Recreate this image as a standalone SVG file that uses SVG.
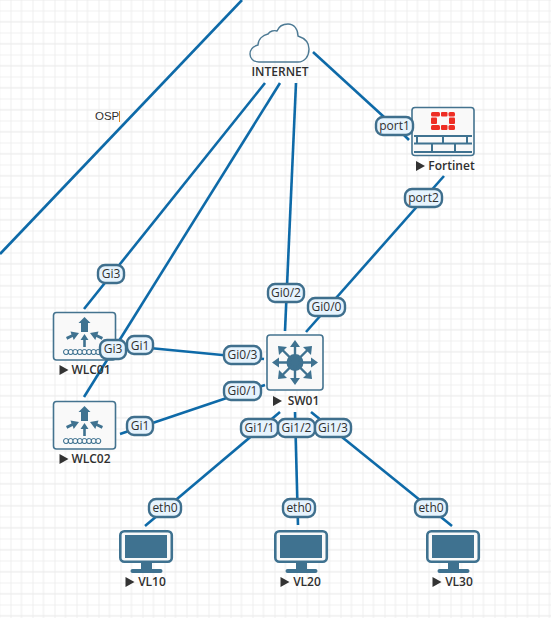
<svg xmlns="http://www.w3.org/2000/svg" width="551" height="618" viewBox="0 0 551 618">
<style>
text{font-family:"Open Sans","Liberation Sans",Arial,sans-serif;fill:#2f2f2f}
.c{stroke:#0e6aa8;stroke-width:2.600;fill:none}
.b{fill:#f9f9f9;stroke:#44738f;stroke-width:1.600}
.f{fill:#3f7290}
.s{stroke:#3f7290;fill:none}
.n{font-size:12px;font-weight:600;text-anchor:middle}
.l rect{fill:#e6f3fd;stroke:#3f6f8d;stroke-width:2.400}
.l text{font-size:12px;text-anchor:middle}
</style>
<defs>
<pattern id="g" width="22" height="22" patternUnits="userSpaceOnUse" x="-11.500" y="0.500">
<path d="M0 0V22M11 0V22M0 10.500H22M0 21.500H22" stroke="#f0f0f0" stroke-width="1.200" fill="none"/>
<path d="M0 0V22M0 21.500H22" stroke="#ebebeb" stroke-width="1.400" fill="none"/>
</pattern>
<path id="t" d="M0 0l9 5-9 5z" fill="#333"/>
<g id="wlc">
<rect class="b" x="0.500" y="0.500" width="62" height="47.500" rx="3"/>
<path class="f" d="M31.500 5l6 6h-2.500V20h-7v-9h-2.500z"/>
<path class="f" d="M31.500 22l4 6h-2.700V35h-2.600v-7h-2.700z"/>
<path class="f" d="M26 21l-8.500-1.500 1 3-5.500 2.500 1.200 2.700 5.500-2.700 1 3zM37 21l8.500-1.500-1 3 5.500 2.500-1.200 2.700-5.500-2.700-1 3z"/>
<path class="s" stroke-width="1.100" d="M13 37.500a2.500 2.500 0 1 0 .1 0M17.600 37.500a2.500 2.500 0 1 0 .1 0M22.200 37.500a2.500 2.500 0 1 0 .1 0M26.800 37.500a2.500 2.500 0 1 0 .1 0M31.400 37.500a2.500 2.500 0 1 0 .1 0M36 37.500a2.500 2.500 0 1 0 .1 0M40.600 37.500a2.500 2.500 0 1 0 .1 0M45.200 37.500a2.500 2.500 0 1 0 .1 0"/>
</g>
<g id="pc">
<rect x="1.300" y="1.300" width="51.500" height="30.500" rx="4" fill="#f9f9f9" stroke="#3f7290" stroke-width="2.600"/>
<rect class="f" x="6" y="5" width="42" height="23"/>
<path class="f" d="M22 32h11v7h8.500a2 2 0 0 1 0 4H13.500a2 2 0 0 1 0-4H22z"/>
</g>
</defs>
<rect width="551" height="618" fill="#fff"/>
<rect width="551" height="618" fill="url(#g)"/>
<g id="connectors" class="c">
<line x1="242" y1="0" x2="0" y2="254"/>
<line x1="265" y1="83" x2="84" y2="309"/>
<line x1="280" y1="83" x2="84" y2="397"/>
<line x1="296" y1="83" x2="285" y2="331"/>
<line x1="313" y1="52" x2="384" y2="117"/>
<line x1="404" y1="135" x2="409" y2="140"/>
<line x1="444" y1="176" x2="306" y2="332"/>
<line x1="139" y1="347" x2="264" y2="359"/>
<line x1="120" y1="434" x2="265" y2="385"/>
<line x1="280" y1="412" x2="145" y2="526"/>
<line x1="295" y1="412" x2="298" y2="525"/>
<line x1="311" y1="412" x2="452" y2="526"/>
</g>
<text x="95" y="120" font-size="11.500" style="font-family:'Liberation Sans',Arial,sans-serif">OSP</text>
<rect x="119" y="111" width="1" height="11" fill="#e08a1e"/>
<g id="INTERNET">
<path d="M259 62C253 62 250 58 250 54C250 49 254 46 258 45C258 39 263 35 268 34C270 31 274 30 277 31C279 26 284 24 288 24C294 24 298 29 298 36C304 38 309 42 309 49C309 56 305 62 298 62Z" fill="none" stroke="#4d7a94" stroke-width="1.400"/>
<text class="n" x="280" y="76">INTERNET</text>
</g>
<g id="Fortinet">
<rect class="b" x="412" y="107.500" width="62" height="48" rx="3"/>
<g fill="#ee2d24">
<rect x="431" y="112" width="9" height="4.500" rx="1.500"/><rect x="441" y="112" width="6.500" height="4.500" rx="1"/><rect x="448.500" y="112" width="6.500" height="4.500" rx="1.500"/>
<rect x="431" y="117.500" width="6" height="6.500" rx="1"/><rect x="449" y="117.500" width="6" height="6.500" rx="1"/>
<rect x="431" y="125" width="9" height="5" rx="1.500"/><rect x="441" y="125" width="6.500" height="5" rx="1"/><rect x="448.500" y="125" width="6.500" height="5" rx="1.500"/>
</g>
<path class="s" stroke-width="2" d="M414 136h58M414 143.500h58M414 152h58M417 135v9M443 135v9M467 135v9M432 143v9M455 143v9"/>
<use href="#t" x="416" y="161"/>
<text class="n" x="451.500" y="170">Fortinet</text>
</g>
<g id="WLC01">
<use href="#wlc" x="53" y="312"/>
<use href="#t" x="59.500" y="365"/>
<text class="n" x="91" y="374">WLC01</text>
</g>
<g id="WLC02">
<use href="#wlc" x="53" y="401"/>
<use href="#t" x="59.500" y="454"/>
<text class="n" x="91" y="463">WLC02</text>
</g>
<g id="SW01">
<rect class="b" x="267" y="335" width="56" height="55" rx="3"/>
<circle class="f" cx="295" cy="362.500" r="8.500"/>
<path class="s" stroke-width="2.400" d="M295 362.500V345M295 362.500V380M295 362.500H277M295 362.500H313M295 362.500L282 349.500M295 362.500L308 349.500M295 362.500L282 375.500M295 362.500L308 375.500"/>
<path class="f" d="M295 340l5 7h-10zM295 385l5-7h-10zM272 362.500l7-5v10zM318 362.500l-7-5v10zM278 346l9 1-8 8zM312 346l-9 1 8 8zM278 379l9-1-8-8zM312 379l-9-1 8-8z"/>
<use href="#t" x="273" y="396"/>
<text class="n" x="303.500" y="405">SW01</text>
</g>
<g id="VL10"><use href="#pc" x="119" y="530"/><use href="#t" x="125.500" y="577"/><text class="n" x="152" y="586">VL10</text></g>
<g id="VL20"><use href="#pc" x="274" y="530"/><use href="#t" x="280.500" y="577"/><text class="n" x="307" y="586">VL20</text></g>
<g id="VL30"><use href="#pc" x="426" y="530"/><use href="#t" x="432.500" y="577"/><text class="n" x="459" y="586">VL30</text></g>
<g id="labels" class="l">
<rect x="376" y="117" width="37" height="18" rx="7"/><text x="394.500" y="130">port1</text>
<rect x="405" y="189" width="37" height="18" rx="7"/><text x="423.500" y="202">port2</text>
<rect x="98" y="265" width="26" height="18" rx="7"/><text x="111" y="278">Gi3</text>
<rect x="268" y="284" width="36" height="18" rx="7"/><text x="286" y="297">Gi0/2</text>
<rect x="308" y="298" width="37" height="18" rx="7"/><text x="326.500" y="311">Gi0/0</text>
<rect x="127" y="336" width="26" height="18" rx="7"/><text x="140" y="349.500">Gi1</text>
<rect x="100" y="340" width="26" height="19" rx="7"/><text x="113" y="353">Gi3</text>
<rect x="224" y="346" width="37" height="18" rx="7"/><text x="242.500" y="359">Gi0/3</text>
<rect x="224" y="382" width="37" height="18" rx="7"/><text x="242.500" y="395">Gi0/1</text>
<rect x="127" y="417" width="26" height="18" rx="7"/><text x="140" y="430">Gi1</text>
<rect x="241" y="419" width="37" height="18" rx="7"/><text x="259.500" y="432">Gi1/1</text>
<rect x="278" y="419" width="37" height="18" rx="7"/><text x="296.500" y="432">Gi1/2</text>
<rect x="315" y="419" width="36" height="18" rx="7"/><text x="333" y="432">Gi1/3</text>
<rect x="149" y="499" width="32" height="18" rx="7"/><text x="165" y="512">eth0</text>
<rect x="283" y="499" width="32" height="18" rx="7"/><text x="299" y="512">eth0</text>
<rect x="415" y="499" width="32" height="18" rx="7"/><text x="431" y="512">eth0</text>
</g>
</svg>
